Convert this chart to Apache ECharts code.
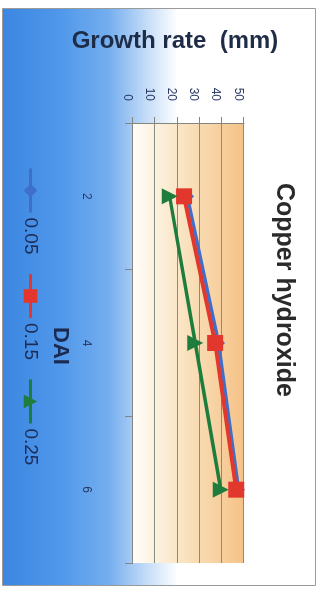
<!DOCTYPE html>
<html>
<head>
<meta charset="utf-8">
<script src="https://cdn.jsdelivr.net/npm/echarts@6/dist/echarts.min.js"></script>
<style>
  html, body { margin: 0; padding: 0; background: #ffffff; overflow: hidden; }
  body { width: 321px; height: 594px; position: relative; }
  /* The chart is laid out landscape and turned a quarter turn clockwise */
  #chart {
    position: absolute; left: 0; top: 0;
    width: 594px; height: 321px;
    transform-origin: 0 0;
    transform: translate(321px, 0) rotate(90deg);
  }
</style>
</head>
<body>
<div id="chart"></div>
<script>
// Days after inoculation
const dai = ['2', '4', '6'];
// Copper hydroxide concentrations
const concentrations = ['0.05', '0.15', '0.25'];
// Growth rate (mm) per concentration
const growth005 = [24.5, 38.5, 47.5];
const growth015 = [23, 37, 46.5];
const growth025 = [16.5, 28, 39.5];
// Value-axis range
const rateMin = 0;
const rateMax = 50;
const rateStep = 10;

const FONT = '"Liberation Sans", Arial, sans-serif';
const seriesValues = [growth005, growth015, growth025];
const seriesStyle = [
  { color: '#3f6fca', symbol: 'diamond', size: 13, width: 3.5 },
  { color: '#e2372c', symbol: 'rect', size: 16, width: 4 },
  { color: '#1e7d3c', symbol: 'triangle', size: 16, width: 3.5 }
];

const chart = echarts.init(document.getElementById('chart'), null, { width: 594, height: 321 });

chart.setOption({
  animation: false,
  graphic: [
    {
      type: 'rect', z: -10, silent: true,
      shape: { x: 8.5, y: 5.5, width: 577, height: 313 },
      style: {
        stroke: '#9a9a9a', lineWidth: 1,
        fill: {
          type: 'linear', x: 0, y: 0, x2: 0, y2: 1,
          colorStops: [
            { offset: 0, color: '#ffffff' },
            { offset: 0.44, color: '#ffffff' },
            { offset: 0.54, color: '#c4dcf8' },
            { offset: 0.66, color: '#74aeee' },
            { offset: 0.82, color: '#4f97ea' },
            { offset: 1, color: '#3b86e2' }
          ]
        }
      }
    },
    {
      type: 'text', silent: true,
      x: 41, y: 146, rotation: Math.PI / 2,
      style: {
        text: 'Growth rate  (mm)',
        font: 'bold 24px ' + FONT,
        fill: '#1e2c48',
        align: 'center', verticalAlign: 'middle'
      }
    }
  ],
  title: {
    text: 'Copper hydroxide',
    left: 183, top: 25, padding: 0,
    textStyle: { fontFamily: FONT, fontSize: 25, fontWeight: 'bold', color: '#2a2a2a' }
  },
  legend: {
    left: 167, top: 281, padding: 0,
    itemWidth: 44, itemHeight: 17, itemGap: 18,
    data: concentrations,
    lineStyle: { width: 3 },
    textStyle: { fontFamily: FONT, fontSize: 19, color: '#1d2b55' }
  },
  grid: {
    left: 123, right: 31, top: 77, bottom: 133,
    show: true, borderWidth: 0,
    backgroundColor: {
      type: 'linear', x: 0, y: 0, x2: 0, y2: 1,
      colorStops: [
        { offset: 0, color: '#f5c287' },
        { offset: 0.5, color: '#f9e0bb' },
        { offset: 1, color: '#fffdf8' }
      ]
    }
  },
  xAxis: {
    type: 'category',
    data: dai,
    boundaryGap: true,
    name: 'DAI',
    nameLocation: 'middle',
    nameGap: 62,
    nameTextStyle: { fontFamily: FONT, fontSize: 22, fontWeight: 'bold', color: '#1b2a50', padding: [0, 0, 0, 6] },
    axisLine: { lineStyle: { color: '#858580', width: 1 } },
    axisTick: { show: true, length: 8, alignWithLabel: false, lineStyle: { color: '#858580' } },
    axisLabel: { margin: 41, fontFamily: FONT, fontSize: 12, color: '#2a3a66' },
    splitLine: { show: false }
  },
  yAxis: {
    type: 'value',
    min: rateMin, max: rateMax, interval: rateStep,
    axisLine: { show: true, lineStyle: { color: '#858580', width: 1 } },
    axisTick: { show: true, length: 6, lineStyle: { color: '#858580' } },
    axisLabel: { margin: 22, fontFamily: FONT, fontSize: 12, color: '#2a3a66', verticalAlign: 'top' },
    splitLine: { show: true, lineStyle: { color: '#8a8a84', width: 1 } }
  },
  series: concentrations.map((name, i) => ({
    name: name,
    type: 'line',
    data: seriesValues[i],
    symbol: seriesStyle[i].symbol,
    symbolSize: seriesStyle[i].size,
    itemStyle: { color: seriesStyle[i].color },
    lineStyle: { color: seriesStyle[i].color, width: seriesStyle[i].width }
  }))
});
</script>
</body>
</html>
